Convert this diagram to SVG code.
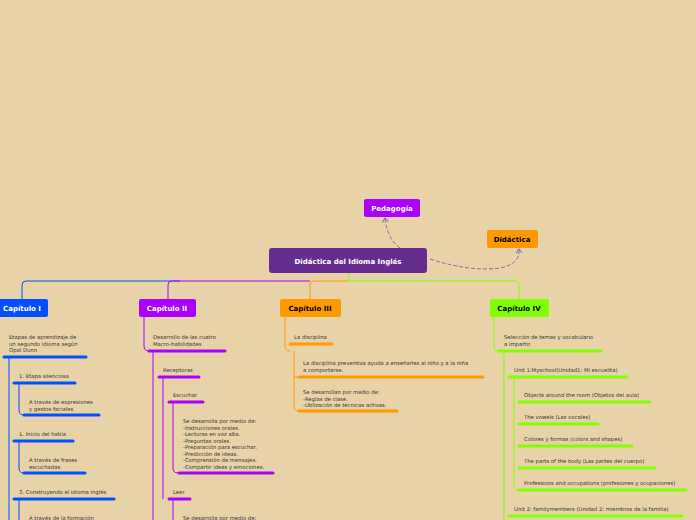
<svg xmlns="http://www.w3.org/2000/svg" width="696" height="520" viewBox="0 0 696 520">
<style>
.t{font-family:"DejaVu Sans",sans-serif;font-size:5.3px;fill:#333}
.h{font-family:"DejaVu Sans",sans-serif;font-size:7px;font-weight:bold;text-anchor:middle}
.b{stroke-width:3;stroke-linecap:round;fill:none}
.l{fill:none;stroke-width:1}
.bl{stroke:#0050ff}.pu{stroke:#aa00ff}.or{stroke:#ff9900}.gr{stroke:#80ff00}
</style>
<defs><marker id="ar" markerWidth="8" markerHeight="8" refX="4" refY="4" orient="auto"><path d="M1,1 L5,4 L1,7" fill="none" stroke="#8866aa" stroke-width="1"/></marker></defs>
<rect width="696" height="520" fill="#e8d3a8"/>
<g id="connectors">
<path d="M400,248 Q388,240 385,219" fill="none" stroke="#8866aa" stroke-dasharray="4,2" marker-end="url(#ar)"/>
<path d="M430,259 Q470,272 500,268 Q520,264 519,250" fill="none" stroke="#8866aa" stroke-dasharray="4,2" marker-end="url(#ar)"/>
<path class="l bl" d="M180,281 H26 Q22,281 22,285 V299"/>
<path class="l pu" d="M310,281 H172 Q168,281 168,285 V299"/>
<path class="l or" d="M349,281 H314 Q310,281 310,285 V299"/>
<path class="l gr" d="M349,273 V281 H515 Q519,281 519,285 V299"/>
<path class="l bl" stroke-width="1.5" d="M9,357 V520"/>
<path class="l bl" d="M19,383 V410 Q19,415 24,415 M19,441 V468 Q19,473 24,473 M19,499 V520"/>
<path class="l pu" d="M144,317 V346 Q144,351 149,351"/>
<path class="l pu" stroke-width="1.2" d="M153,351 V520"/>
<path class="l pu" d="M163,377 V499 M173,402 V468 Q173,473 178,473 M173,499 V520"/>
<path class="l or" d="M285,317 V346 Q285,351 290,351 M294,351 V406 Q294,411 299,411 M294,377 H298"/>
<path class="l gr" d="M494,317 V346 Q494,351 499,351"/>
<path class="l gr" stroke-width="2" d="M504,351 V520"/>
<path class="l gr" d="M514,377 V485 Q514,490 519,490"/>
</g>
<g id="root"><rect x="269" y="248" width="158" height="25" rx="3" fill="#662d91"/><text class="h" x="348" y="264" font-size="9" fill="#fff">Didáctica del Idioma Inglés</text></g>
<g id="pedagogia"><rect x="364" y="199" width="56" height="18" rx="2" fill="#aa00ff"/><text class="h" x="392" y="211" fill="#fff">Pedagogía</text></g>
<g id="didactica"><rect x="487" y="230" width="51" height="18" rx="2" fill="#ff9900"/><text class="h" x="512" y="242" fill="#000">Didáctica</text></g>
<g id="cap1"><rect x="-2" y="299" width="50" height="18" rx="2" fill="#0050ff"/><text class="h" x="22" y="311" fill="#fff">Capítulo I</text></g>
<g id="cap2"><rect x="139" y="299" width="57" height="18" rx="2" fill="#aa00ff"/><text class="h" x="167" y="311" fill="#fff">Capítulo II</text></g>
<g id="cap3"><rect x="280" y="299" width="61" height="18" rx="2" fill="#ff9900"/><text class="h" x="310" y="311" fill="#000">Capítulo III</text></g>
<g id="cap4"><rect x="490" y="299" width="59" height="18" rx="2" fill="#80ff00"/><text class="h" x="519" y="311" fill="#000">Capítulo IV</text></g>
<g id="c1items">
<text class="t" x="9" y="339">Etapas de aprendizaje de<tspan x="9" dy="6.5">un segundo idioma según</tspan><tspan x="9" dy="6.5">Opal Dunn</tspan></text>
<path class="b bl" d="M4,357 H86"/>
<text class="t" x="19" y="378">1. Etapa silenciosa</text><path class="b bl" d="M14,383 H75"/>
<text class="t" x="29" y="404">A través de expresiones<tspan x="29" dy="6.5">y gestos faciales</tspan></text><path class="b bl" d="M24,415 H99"/>
<text class="t" x="19" y="436">1. Inicio del habla</text><path class="b bl" d="M14,441 H73"/>
<text class="t" x="29" y="462">A través de frases<tspan x="29" dy="6.5">escuchadas.</tspan></text><path class="b bl" d="M24,473 H85"/>
<text class="t" x="19" y="494">3. Construyendo el idioma inglés</text><path class="b bl" d="M14,499 H114"/>
<text class="t" x="29" y="520">A través de la formación</text>
</g>
<g id="c2items">
<text class="t" x="153" y="339">Desarrollo de las cuatro<tspan x="153" dy="6.5">Macro-habilidades</tspan></text><path class="b pu" d="M149,351 H225"/>
<text class="t" x="163" y="372">Receptoras</text><path class="b pu" d="M159,377 H199"/>
<text class="t" x="173" y="397">Escuchar</text><path class="b pu" d="M169,402 H203"/>
<text class="t" x="183" y="423">Se desarrolla por medio de:<tspan x="183" dy="6.5">-Instrucciones orales.</tspan><tspan x="183" dy="6.5">-Lecturas en voz alta.</tspan><tspan x="183" dy="6.5">-Preguntas orales.</tspan><tspan x="183" dy="6.5">-Preparación para escuchar.</tspan><tspan x="183" dy="6.5">-Predicción de ideas.</tspan><tspan x="183" dy="6.5">-Comprensión de mensajes.</tspan><tspan x="183" dy="6.5">-Compartir ideas y emociones.</tspan></text>
<path class="b pu" d="M179,473 H273"/>
<text class="t" x="173" y="494">Leer</text><path class="b pu" d="M169,499 H190"/>
<text class="t" x="183" y="520">Se desarrolla por medio de:</text>
</g>
<g id="c3items">
<text class="t" x="294" y="339">La disciplina</text><path class="b or" d="M290,344 H332"/>
<text class="t" x="303" y="365">La disciplina preventiva ayuda a enseñarles al niño y a la niña<tspan x="303" dy="6.5">a comportarse.</tspan></text><path class="b or" d="M299,377 H483"/>
<text class="t" x="303" y="394">Se desarrollan por medio de:<tspan x="303" dy="6.5">-Reglas de clase.</tspan><tspan x="303" dy="6.5">-Utilización de técnicas activas.</tspan></text><path class="b or" d="M299,411 H397"/>
</g>
<g id="c4items">
<text class="t" x="504" y="339">Selección de temas y vocabulario<tspan x="504" dy="6.5">a impartir.</tspan></text><path class="b gr" d="M499,351 H601"/>
<text class="t" x="514" y="372">Unit 1:Myschool(Unidad1: Mi escuelita)</text><path class="b gr" d="M509,377 H627"/>
<text class="t" x="524" y="397">Objects around the room (Objetos del aula)</text><path class="b gr" d="M519,402 H650"/>
<text class="t" x="524" y="419">The vowels (Las vocales)</text><path class="b gr" d="M519,424 H598"/>
<text class="t" x="524" y="441">Colores y formas (colors and shapes)</text><path class="b gr" d="M519,446 H632"/>
<text class="t" x="524" y="463">The parts of the body (Las partes del cuerpo)</text><path class="b gr" d="M519,468 H655"/>
<text class="t" x="524" y="485">Professions and occupations (profesiones y ocupaciones)</text><path class="b gr" d="M519,490 H686"/>
<text class="t" x="514" y="511">Unit 2: familymembers (Unidad 2: miembros de la familia)</text><path class="b gr" d="M509,516 H682"/>
</g>
</svg>
